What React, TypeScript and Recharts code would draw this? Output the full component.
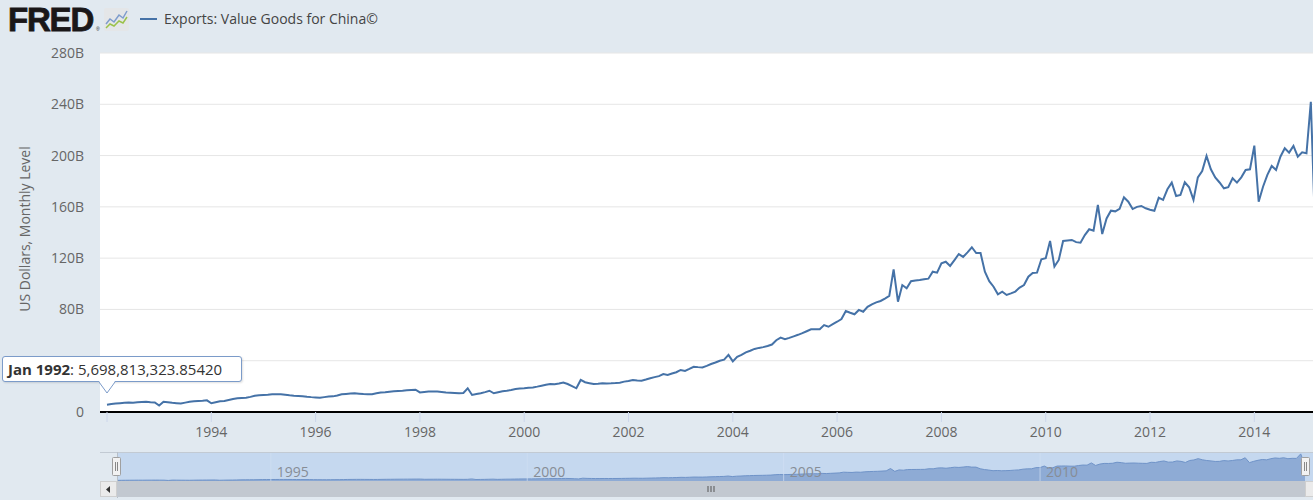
import React from 'react';
import { LineChart, Line, XAxis, YAxis, CartesianGrid, AreaChart, Area, ReferenceLine } from 'recharts';

const seriesTitle = 'Exports: Value Goods for China©';
const yAxisTitle = 'US Dollars, Monthly Level';
const startYear = 1992;
const monthNames = ['Jan', 'Feb', 'Mar', 'Apr', 'May', 'Jun', 'Jul', 'Aug', 'Sep', 'Oct', 'Nov', 'Dec'];
const tooltipIndex = 0;
const tooltipValueText = '5,698,813,323.85420';

// Monthly values, billions of US dollars, from Jan 1992
const exports1992to1995 = [
  5.7, 6.2, 6.6, 6.9, 7.2, 7.4, 7.3, 7.6, 7.8, 8.0, 7.7, 7.5,
  5.0, 8.0, 7.6, 7.2, 6.9, 6.6, 7.3, 8.0, 8.3, 8.6, 8.8, 9.1,
  6.8, 7.6, 8.3, 8.6, 9.4, 10.2, 10.7, 11.0, 11.2, 11.8, 12.7, 13.0,
  13.3, 13.5, 13.8, 13.9, 13.8, 13.4, 13.0, 12.7, 12.5, 12.3, 11.9, 11.6,
];
const exports1996to1999 = [
  11.4, 11.2, 11.6, 12.0, 12.2, 12.9, 13.8, 14.1, 14.4, 14.6, 14.3, 14.0,
  13.8, 13.9, 14.6, 15.2, 15.4, 15.8, 16.1, 16.4, 16.6, 16.9, 17.2, 17.4,
  15.3, 15.6, 15.9, 16.0, 15.9, 15.6, 15.3, 15.1, 14.9, 14.6, 14.8, 18.5,
  13.3, 14.0, 14.6, 15.5, 16.6, 14.6, 15.4, 16.2, 16.6, 17.2, 17.9, 18.3,
];
const exports2000to2003 = [
  18.5, 18.9, 19.2, 19.8, 20.5, 21.2, 21.8, 21.6, 22.2, 22.9, 21.8, 20.2,
  18.5, 25.0, 23.2, 22.5, 21.8, 22.0, 22.4, 22.3, 22.4, 22.6, 22.9, 23.7,
  24.2, 25.0, 24.6, 24.4, 25.3, 26.3, 27.2, 28.0, 29.6, 28.9, 30.0, 31.0,
  32.8, 32.0, 33.6, 35.3, 35.0, 34.8, 36.0, 37.4, 38.6, 40.0, 40.8, 44.5,
];
const exports2004to2007 = [
  39.5, 43.0, 44.5, 46.5, 47.8, 49.2, 50.0, 50.6, 51.5, 52.6, 56.0, 58.0,
  56.7, 57.8, 59.0, 60.2, 61.5, 63.0, 64.5, 64.6, 64.5, 67.8, 66.5, 68.5,
  70.4, 72.5, 78.8, 77.4, 76.2, 79.6, 78.2, 82.0, 84.0, 85.5, 86.6, 88.5,
  90.5, 111.3, 86.0, 99.0, 96.5, 102.0, 102.6, 103.0, 103.5, 104.0, 109.4, 108.7,
];
const exports2008to2011 = [
  116.0, 117.2, 113.9, 118.5, 123.2, 121.0, 124.5, 128.5, 124.0, 124.0, 109.4, 102.0,
  97.7, 91.8, 93.8, 91.3, 92.5, 93.9, 97.0, 99.0, 105.5, 108.5, 108.7, 119.1,
  119.9, 133.4, 113.4, 118.6, 133.4, 133.8, 134.2, 132.5, 132.0, 138.0, 142.5, 141.4,
  161.5, 138.8, 151.0, 157.0, 156.5, 158.5, 167.5, 164.0, 158.3, 160.0, 160.7, 158.9,
];
const exports2012to2015 = [
  157.8, 157.0, 167.2, 165.4, 173.7, 178.9, 168.5, 169.3, 179.2, 175.3, 165.4, 183.0,
  188.0, 199.7, 189.3, 183.0, 179.0, 174.5, 175.3, 182.3, 178.9, 183.0, 188.8, 189.3,
  207.7, 164.0, 175.7, 184.9, 191.9, 188.8, 199.1, 205.7, 202.3, 207.5, 199.1, 202.5,
  201.8, 242.0, 140.0,
];

const yTicks = [0, 40, 80, 120, 160, 200, 240, 280];
const xTickMonths = [0, 24, 48, 72, 96, 120, 144, 168, 192, 216, 240, 264];
const xTickLabels = ['', '1994', '1996', '1998', '2000', '2002', '2004', '2006', '2008', '2010', '2012', '2014'];
const navTickMonths = [36, 96, 156, 216];
const navTickLabels = ['1995', '2000', '2005', '2010'];

const values = [
  ...exports1992to1995,
  ...exports1996to1999,
  ...exports2000to2003,
  ...exports2004to2007,
  ...exports2008to2011,
  ...exports2012to2015,
];
const data = values.map((v, i) => ({ i, v }));
const lastIndex = data.length - 1;

const tooltipLabel = `${monthNames[tooltipIndex % 12]} ${startYear + Math.floor(tooltipIndex / 12)}`;

const LINE = '#4572a7';
const BG = '#e1e9f0';
const FONT = "'Open Sans', sans-serif";

const navLabel = (text: string) => (props: any) => {
  const vb = props.viewBox || {};
  return (
    <text x={(vb.x ?? 0) + 6} y={24} fill="#878d96" fontSize={14} fontFamily={FONT}>
      {text}
    </text>
  );
};

export default function App() {
  return (
    <div
      style={{
        position: 'absolute',
        left: 0,
        top: 0,
        width: 1313,
        height: 500,
        background: BG,
        overflow: 'hidden',
        fontFamily: FONT,
      }}
    >
      <div style={{ position: 'absolute', left: 0, top: 0 }}>
        <LineChart
          width={1324}
          height={450}
          data={data}
          margin={{ top: 53, right: 0, bottom: 0, left: 0 }}
        >
          <CartesianGrid vertical={false} stroke="#e6e6e6" fill="#ffffff" />
          <XAxis
            dataKey="i"
            type="number"
            domain={[-1.611, 280.03]}
            allowDataOverflow
            ticks={xTickMonths}
            interval={0}
            tickFormatter={(v: number) => xTickLabels[xTickMonths.indexOf(v)] ?? ''}
            height={38}
            tickSize={10}
            tickMargin={5}
            tickLine={{ stroke: '#ccd6eb' }}
            axisLine={{ stroke: '#000', strokeWidth: 2 }}
            tick={{ fill: '#666', fontSize: 14, fontFamily: FONT }}
          />
          <YAxis
            domain={[0, 280]}
            ticks={yTicks}
            interval={0}
            width={100}
            axisLine={false}
            tickLine={false}
            tickSize={0}
            tickMargin={16}
            tickFormatter={(v: number) => (v === 0 ? '0' : `${v}B`)}
            tick={{ fill: '#666', fontSize: 14, fontFamily: FONT }}
          />
          <Line
            type="linear"
            dataKey="v"
            stroke={LINE}
            strokeWidth={2}
            dot={false}
            activeDot={false}
            isAnimationActive={false}
          />
        </LineChart>
      </div>

      {/* header, axis title */}
      <svg
        width={1313}
        height={500}
        style={{ position: 'absolute', left: 0, top: 0, pointerEvents: 'none' }}
      >
        <text
          x={8}
          y={31}
          fontFamily="'Liberation Sans', Arial, sans-serif"
          fontWeight={700}
          fontSize={33}
          letterSpacing={-1.2}
          fill="#1a1718"
          stroke="#1a1718"
          strokeWidth={0.8}
        >
          FRED
        </text>
        <text x={96} y={31} fontSize={5} fill="#231f20" fontFamily="'Liberation Sans', sans-serif">®</text>
        <rect x={104} y={8} width={25} height={23} rx={2} fill="#e4e6e8" />
        <polyline points="106,24 110,19 114,22 119,15 123,18 127,11" fill="none" stroke="#7e9ccc" strokeWidth={1.5} />
        <polyline points="106,28 110,24 114,26 119,21 123,23 127,17" fill="none" stroke="#9bc24a" strokeWidth={1.5} />
        <line x1={140} x2={157} y1={19} y2={19} stroke={LINE} strokeWidth={2} />
        <text x={164} y={24} fontSize={14} fill="#444" fontFamily={FONT}>
          {seriesTitle}
        </text>
        <text
          x={0}
          y={0}
          transform="translate(30,229) rotate(-90)"
          textAnchor="middle"
          fontSize={14}
          fill="#666"
          fontFamily={FONT}
        >
          {yAxisTitle}
        </text>
      </svg>

      {/* tooltip */}
      <div
        style={{
          position: 'absolute',
          left: 2,
          top: 356,
          width: 240,
          height: 26,
          boxSizing: 'border-box',
          background: '#fff',
          border: '1px solid #7b9bc9',
          borderRadius: 3,
          boxShadow: '1px 1px 2px rgba(0,0,0,0.12)',
          fontSize: 15,
          color: '#333',
          lineHeight: '24px',
          paddingLeft: 5,
          whiteSpace: 'nowrap',
        }}
      >
        <b>{tooltipLabel}</b>: {tooltipValueText}
      </div>
      <svg width={20} height={14} style={{ position: 'absolute', left: 99, top: 381 }}>
        <polygon points="0,0 8,12 16,0" fill="#fff" />
        <polyline points="0,1 8,12 16,1" fill="none" stroke="#7b9bc9" strokeWidth={1} />
      </svg>

      {/* navigator */}
      <div style={{ position: 'absolute', left: 100, top: 452, width: 1213, height: 1, background: '#c2cad3' }} />
      <div style={{ position: 'absolute', left: 117, top: 453, width: 1196, height: 28, background: '#c5d8ef' }} />
      <div style={{ position: 'absolute', left: 117, top: 453 }}>
        <AreaChart width={1188} height={28} data={data} margin={{ top: 0, right: 0, bottom: 0, left: 0 }}>
          <XAxis dataKey="i" type="number" domain={[0, lastIndex]} hide />
          <YAxis hide domain={[0, 250]} />
          <Area
            type="linear"
            dataKey="v"
            stroke="#6f93c8"
            strokeWidth={1}
            fill="#8eabd5"
            fillOpacity={1}
            isAnimationActive={false}
          />
          {navTickMonths.map((m, k) => (
            <ReferenceLine
              key={m}
              x={m}
              stroke="#d0dff2"
              strokeOpacity={0.7}
              strokeWidth={1}
              label={navLabel(navTickLabels[k])}
            />
          ))}
        </AreaChart>
      </div>
      <div style={{ position: 'absolute', left: 117, top: 452, width: 1, height: 46, background: '#b8c0c9' }} />

      {/* scrollbar */}
      <svg width={1313} height={50} style={{ position: 'absolute', left: 0, top: 450 }}>
        <rect x={117} y={31} width={1188} height={16} fill="#c2c8d0" />
        <line x1={708} x2={708} y1={36} y2={42} stroke="#555" />
        <line x1={711} x2={711} y1={36} y2={42} stroke="#555" />
        <line x1={714} x2={714} y1={36} y2={42} stroke="#555" />
        <rect x={100.5} y={31.5} width={16} height={15} fill="#ebebeb" stroke="#cfcfcf" />
        <polygon points="110,36 106,39.5 110,43" fill="#333" />
        <rect x={1305.5} y={31.5} width={16} height={15} fill="#ebebeb" stroke="#cfcfcf" />
        {/* handles */}
        <rect x={112.5} y={7.5} width={8} height={18} rx={1} fill="#f2f2f2" stroke="#a0a0a0" />
        <line x1={115.5} x2={115.5} y1={12} y2={21} stroke="#888" />
        <line x1={117.5} x2={117.5} y1={12} y2={21} stroke="#888" />
        <rect x={1301.5} y={7.5} width={8} height={18} rx={1} fill="#f2f2f2" stroke="#a0a0a0" />
        <line x1={1304.5} x2={1304.5} y1={12} y2={21} stroke="#888" />
        <line x1={1306.5} x2={1306.5} y1={12} y2={21} stroke="#888" />
      </svg>
    </div>
  );
}
